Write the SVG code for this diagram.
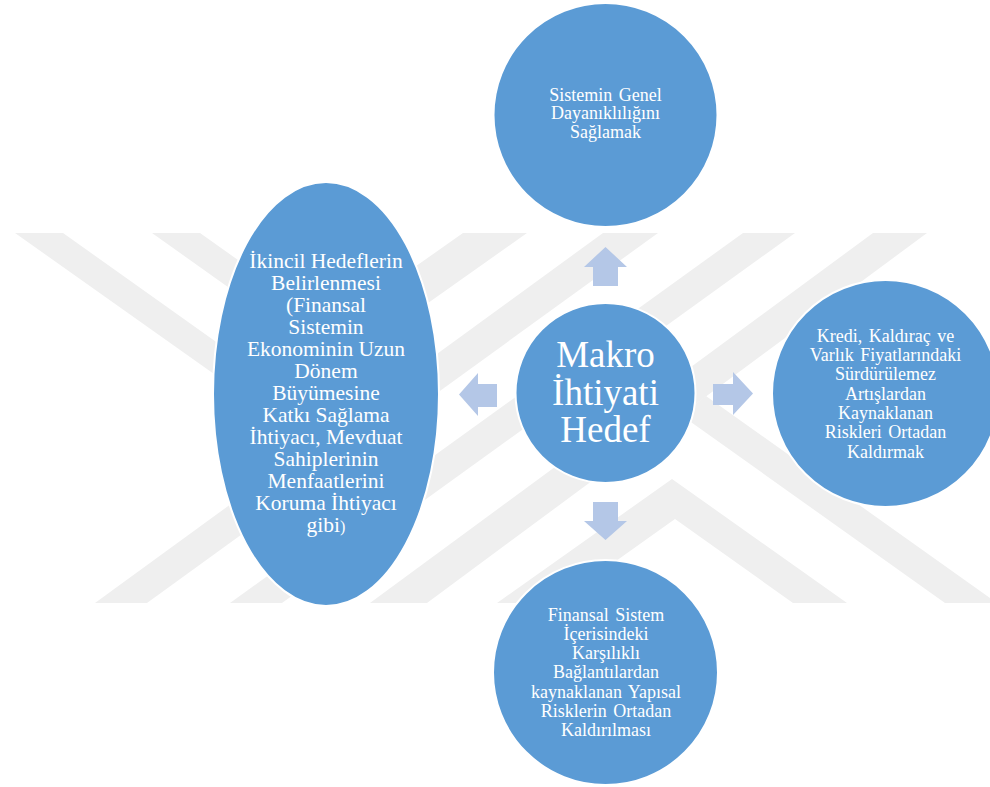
<svg xmlns="http://www.w3.org/2000/svg" width="990" height="787" viewBox="0 0 990 787">
<style>
.wm{fill:#efefef;}
.node{fill:#5b9bd5;stroke:#ffffff;stroke-width:2;}
.arrow{fill:#b4c7e7;}
.t{font-family:'Liberation Serif','Times New Roman','DejaVu Serif',serif;fill:#ffffff;text-anchor:middle;}
.s18{font-size:18px;word-spacing:2px;}
.s21{font-size:21.5px;}
.s37{font-size:37px;}
</style>
<rect width="990" height="787" fill="#ffffff"/>
<g id="watermark">
<polygon class="wm" points="15,233 63,233 336,427 313,444"/>
<polygon class="wm" points="152,233 200,233 331,326 463,233 527,233 339,366"/>
<polygon class="wm" points="95,603 147,603 658,233 603,233"/>
<polygon class="wm" points="230,603 282,603 795,233 743,233"/>
<polygon class="wm" points="370,603 427,603 927,233 873,233"/>
<polygon class="wm" points="497,603 672,479 847,603 793,603 675,519 557,603"/>
<polygon class="wm" points="945,603 997,603 706,396 681,415"/>
</g>
<g id="connectors">
<polygon class="arrow" points="605.5,247 627,267 618,267 618,286 593,286 593,267 584,267"/>
<polygon class="arrow" points="593,502 618,502 618,521 627,521 605.5,540 584,521 593,521"/>
<polygon class="arrow" points="459,394.5 478,373 478,384 497,384 497,407 478,407 478,416"/>
<polygon class="arrow" points="713,384 733,384 733,372 753,393.5 733,415 733,405 713,405"/>
</g>
<g id="node-top" font-family="Liberation Serif, serif">
<circle class="node" cx="605.5" cy="115" r="112"/>
<text class="t s18" x="605.5" y="101">Sistemin Genel</text>
<text class="t s18" x="605.5" y="119.3">Dayanıklılığını</text>
<text class="t s18" x="605.5" y="137.7">Sağlamak</text>
</g>
<g id="node-left" font-family="Liberation Serif, serif">
<ellipse class="node" cx="326" cy="394" rx="113" ry="212"/>
<text class="t s21" x="326" y="268">İkincil Hedeflerin</text>
<text class="t s21" x="326" y="290">Belirlenmesi</text>
<text class="t s21" x="326" y="312">(Finansal</text>
<text class="t s21" x="326" y="334">Sistemin</text>
<text class="t s21" x="326" y="356">Ekonominin Uzun</text>
<text class="t s21" x="326" y="378">Dönem</text>
<text class="t s21" x="326" y="400">Büyümesine</text>
<text class="t s21" x="326" y="422">Katkı Sağlama</text>
<text class="t s21" x="326" y="444">İhtiyacı, Mevduat</text>
<text class="t s21" x="326" y="466">Sahiplerinin</text>
<text class="t s21" x="326" y="488">Menfaatlerini</text>
<text class="t s21" x="326" y="510">Koruma İhtiyacı</text>
<text class="t s21" x="326" y="532">gibi<tspan font-size="16px">)</tspan></text>
</g>
<g id="node-center" font-family="Liberation Serif, serif">
<circle class="node" cx="605.5" cy="393" r="90"/>
<text class="t s37" x="605.5" y="367">Makro</text>
<text class="t s37" x="605.5" y="405">İhtiyati</text>
<text class="t s37" x="605.5" y="442">Hedef</text>
</g>
<g id="node-right" font-family="Liberation Serif, serif">
<circle class="node" cx="885.5" cy="393.5" r="113.5"/>
<text class="t s18" x="885.5" y="341.7">Kredi, Kaldıraç ve</text>
<text class="t s18" x="885.5" y="361">Varlık Fiyatlarındaki</text>
<text class="t s18" x="885.5" y="380.3">Sürdürülemez</text>
<text class="t s18" x="885.5" y="399.6">Artışlardan</text>
<text class="t s18" x="885.5" y="418.9">Kaynaklanan</text>
<text class="t s18" x="885.5" y="438.2">Riskleri Ortadan</text>
<text class="t s18" x="885.5" y="457.5">Kaldırmak</text>
</g>
<g id="node-bottom" font-family="Liberation Serif, serif">
<circle class="node" cx="605.5" cy="672.5" r="112.5"/>
<text class="t s18" x="606" y="620.7">Finansal Sistem</text>
<text class="t s18" x="606" y="639.9">İçerisindeki</text>
<text class="t s18" x="606" y="659.1">Karşılıklı</text>
<text class="t s18" x="606" y="678.3">Bağlantılardan</text>
<text class="t s18" x="606" y="697.5">kaynaklanan Yapısal</text>
<text class="t s18" x="606" y="716.7">Risklerin Ortadan</text>
<text class="t s18" x="606" y="735.9">Kaldırılması</text>
</g>
</svg>
